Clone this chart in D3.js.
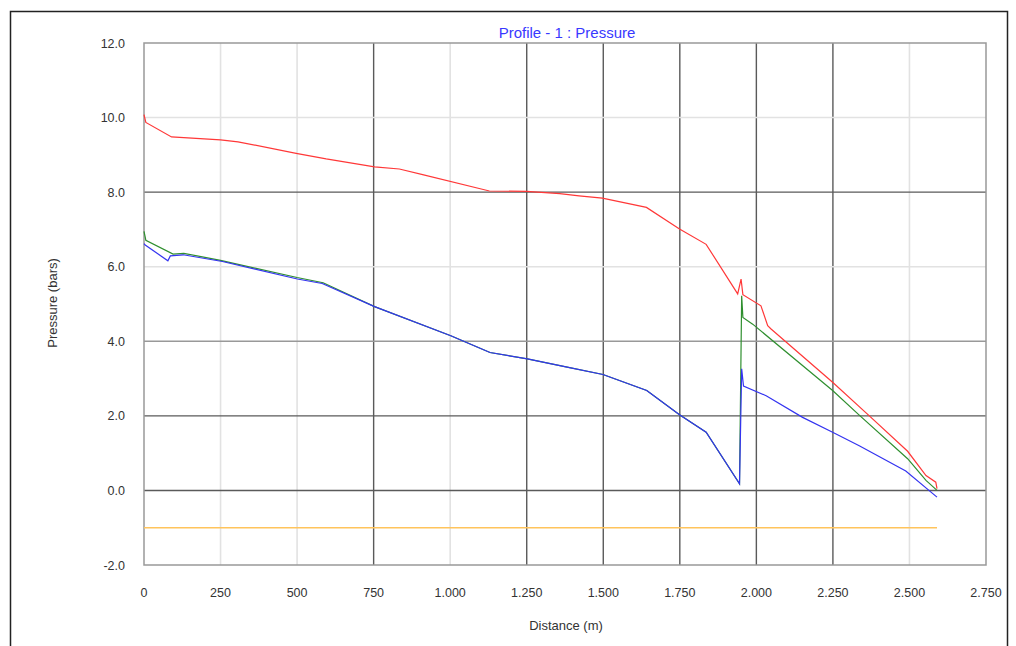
<!DOCTYPE html>
<html>
<head>
<meta charset="utf-8">
<script src="https://cdn.jsdelivr.net/npm/d3@7"></script>
<style>
  body { margin: 0; background: #fff; }
  text { font-family: "Liberation Sans", Arial, sans-serif; }
</style>
</head>
<body>
<div id="chart"></div>
<script>
// values
var xTicks = [0, 250, 500, 750, 1000, 1250, 1500, 1750, 2000, 2250, 2500, 2750];
var yTicks = [-2, 0, 2, 4, 6, 8, 10, 12];

var redSeries = [[0,10.08],[6,9.87],[90,9.48],[250,9.40],[307,9.35],[497,9.04],[595,8.89],
  [753,8.68],[834,8.62],[910,8.47],[1128,8.03],[1250,8.02],[1358,7.96],[1421,7.90],[1497,7.84],
  [1641,7.59],[1749,7.01],[1836,6.60],[1939,5.27],[1950,5.67],[1956,5.25],[2015,4.95],
  [2037,4.42],[2048,4.33],[2249,2.90],[2369,2.00],[2494,1.05],[2554,0.40],[2586,0.22],[2590,0.05]];

var greenSeries = [[0,6.95],[6,6.71],[95,6.34],[130,6.36],[250,6.17],[500,5.71],[585,5.57],
  [753,4.93],[1002,4.15],[1130,3.70],[1252,3.53],[1386,3.30],[1499,3.11],[1642,2.68],
  [1749,2.03],[1836,1.56],[1945,0.18],[1952,5.22],[1956,4.64],[1988,4.46],[2249,2.68],
  [2336,2.02],[2494,0.85],[2554,0.27],[2590,0.0]];

var blueSeries = [[0,6.62],[4,6.58],[78,6.16],[86,6.29],[128,6.32],[256,6.14],[501,5.67],
  [582,5.55],[753,4.93],[1002,4.15],[1130,3.70],[1252,3.53],[1386,3.30],[1499,3.11],
  [1642,2.68],[1749,2.03],[1836,1.56],[1945,0.18],[1952,3.26],[1958,2.80],[2032,2.54],
  [2151,1.96],[2249,1.56],[2336,1.20],[2488,0.52],[2590,-0.18]];

var orangeSeries = [[0,-1.0],[2590,-1.0]];

var w = 1016, h = 646;

var svg = d3.select("#chart")
  .append("svg")
  .attr("width", w)
  .attr("height", h);

// outer frame
svg.append("rect")
  .attr("x", 10.5).attr("y", 11.5)
  .attr("width", 997).attr("height", 700)
  .attr("fill", "none")
  .attr("stroke", "#222")
  .attr("stroke-width", 1.5);

var x = d3.scaleLinear().domain([0, 2750]).range([144, 986]);
var y = d3.scaleLinear().domain([-2, 12]).range([565, 43]);

// the picture was downscaled, so some grid lines came out dark and some faint
var faintX = [250, 500, 1000, 2500];
var faintY = [10, 6];

svg.selectAll(".gx")
  .data(xTicks.slice(1, -1))
  .enter()
  .append("line")
  .attr("x1", function(d) { return x(d); })
  .attr("x2", function(d) { return x(d); })
  .attr("y1", y(12))
  .attr("y2", y(-2))
  .style("stroke", function(d) { return faintX.indexOf(d) >= 0 ? "#e2e2e2" : "#5a5a5a"; })
  .style("stroke-width", function(d) { return faintX.indexOf(d) >= 0 ? 1.6 : 1.4; });

svg.selectAll(".gy")
  .data(yTicks.slice(1, -1))
  .enter()
  .append("line")
  .attr("x1", x(0))
  .attr("x2", x(2750))
  .attr("y1", function(d) { return y(d); })
  .attr("y2", function(d) { return y(d); })
  .style("stroke", function(d) { return faintY.indexOf(d) >= 0 ? "#e2e2e2" : (d == 4 ? "#999" : "#5a5a5a"); })
  .style("stroke-width", function(d) { return faintY.indexOf(d) >= 0 ? 1.6 : 1.4; });

// plot border
svg.append("rect")
  .attr("x", x(0)).attr("y", y(12))
  .attr("width", x(2750) - x(0))
  .attr("height", y(-2) - y(12))
  .attr("fill", "none")
  .attr("stroke", "#999")
  .attr("stroke-width", 1.5);

// axes labels
var fmtX = function(d) { return d3.format(",")(d).replace(",", "."); };

svg.selectAll(".tx")
  .data(xTicks)
  .enter()
  .append("text")
  .attr("x", function(d) { return x(d); })
  .attr("y", 597)
  .attr("text-anchor", "middle")
  .style("font-size", "12.5px")
  .style("fill", "#333")
  .text(fmtX);

svg.selectAll(".ty")
  .data(yTicks)
  .enter()
  .append("text")
  .attr("x", 125)
  .attr("y", function(d) { return y(d) + 4.5; })
  .attr("text-anchor", "end")
  .style("font-size", "12.5px")
  .style("fill", "#333")
  .text(function(d) { return d3.format(".1f")(d).replace("\u2212", "-"); });

svg.append("text")
  .attr("x", 566).attr("y", 630)
  .attr("text-anchor", "middle")
  .style("font-size", "13px")
  .style("fill", "#333")
  .text("Distance (m)");

svg.append("text")
  .attr("transform", "translate(57,303) rotate(-90)")
  .attr("text-anchor", "middle")
  .style("font-size", "13px")
  .style("fill", "#333")
  .text("Pressure (bars)");

svg.append("text")
  .attr("x", 567).attr("y", 38)
  .attr("text-anchor", "middle")
  .style("font-size", "15px")
  .style("fill", "#3838ff")
  .text("Profile - 1 : Pressure");

// lines
var line = d3.line()
  .x(function(d) { return x(d[0]); })
  .y(function(d) { return y(d[1]); });

function drawLine(data, colour, width) {
  svg.append("path")
    .datum(data)
    .attr("d", line)
    .attr("fill", "none")
    .attr("stroke", colour)
    .attr("stroke-width", width);
}

drawLine(orangeSeries, "#ffc45c", 1.6);
drawLine(redSeries, "#ff3838", 1.2);
drawLine(greenSeries, "#2f8f2f", 1.2);
drawLine(blueSeries, "#3434f0", 1.2);
</script>
</body>
</html>
